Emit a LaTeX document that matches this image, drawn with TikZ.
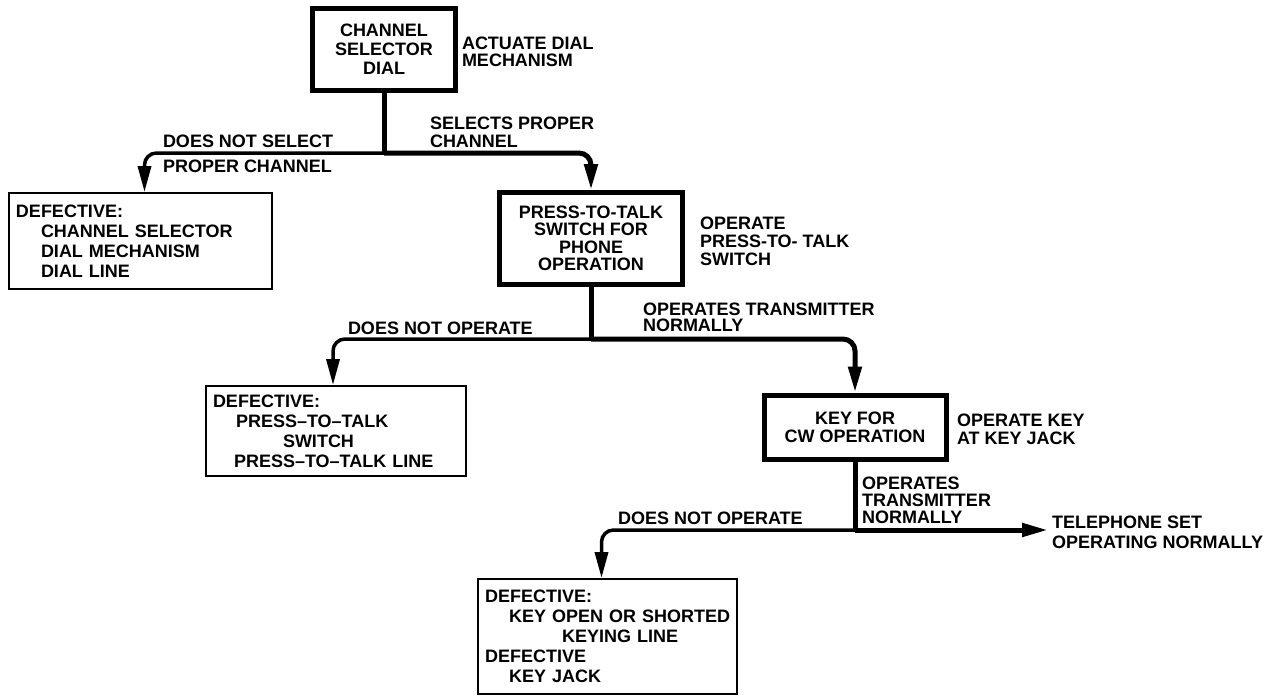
\documentclass[tikz,border=0pt]{standalone}
\usepackage{fontspec}
\setmainfont{Liberation Sans}
\usetikzlibrary{arrows.meta}

\begin{document}
\begin{tikzpicture}[x=1pt,y=-1pt,
  lead/.style={font=\fontsize{18}{#1}\selectfont\bfseries},
  lbl/.style={lead=#1, inner sep=0pt, outer sep=0pt, align=left, anchor=west},
  lbl/.default=18,
  mainbox/.style={draw, line width=5pt, align=center, inner sep=0pt},
  faultbox/.style={draw, line width=2pt, align=left, inner xsep=7pt, inner ysep=0pt, lead=20},
  okline/.style={line width=5pt},
  failline/.style={line width=3.5pt},
  arrowhead/.style={-{Triangle[length=26pt,width=13pt]}},
  roundturn/.style={rounded corners=12pt}
]
\useasboundingbox (0,0) rectangle (1288,696);

% test steps (heavy boxes)
\node[mainbox, lead=19, minimum width=143pt, minimum height=82pt] (b1) at (384,49.5)
  {CHANNEL\\SELECTOR\\DIAL};
\node[mainbox, lead=17.5, minimum width=183pt, minimum height=92pt] (b3) at (591,238.5)
  {PRESS-TO-TALK\\SWITCH FOR\\PHONE\\OPERATION};
\node[mainbox, lead=18, minimum width=182pt, minimum height=64pt] (b5) at (855,427)
  {KEY FOR\\CW OPERATION};

% fault boxes (light boxes); each line kept unbroken
\node[faultbox, text width=249pt, minimum height=96pt] (d1) at (140.5,241)
  {\mbox{DEFECTIVE:}\\
   \mbox{\hspace*{25pt}CHANNEL SELECTOR}\\
   \mbox{\hspace*{25pt}DIAL MECHANISM}\\
   \mbox{\hspace*{25pt}DIAL LINE}};
\node[faultbox, text width=246pt, minimum height=90pt] (d2) at (336,431)
  {\mbox{DEFECTIVE:}\\
   \mbox{\hspace*{23pt}PRESS--TO--TALK}\\
   \mbox{\hspace*{70pt}SWITCH}\\
   \mbox{\hspace*{21pt}PRESS--TO--TALK LINE}};
\node[faultbox, text width=245pt, minimum height=115pt] (d3) at (607.5,636.5)
  {\mbox{DEFECTIVE:}\\
   \mbox{\hspace*{24pt}KEY OPEN OR SHORTED}\\
   \mbox{\hspace*{77pt}KEYING LINE}\\
   \mbox{DEFECTIVE}\\
   \mbox{\hspace*{24pt}KEY JACK}};

% actions beside the steps
\node[lbl=17] (act1) at (462,51.5) {ACTUATE DIAL\\MECHANISM};
\node[lbl=18] (act3) at (700,241) {OPERATE\\PRESS-TO- TALK\\SWITCH};
\node[lbl=18] (act5) at (957,429) {OPERATE KEY\\AT KEY JACK};

% outcome labels
\node[lbl=18] (ok1) at (430,132) {SELECTS PROPER\\CHANNEL};
\node[lbl=25] (no1) at (163,153.5) {DOES NOT SELECT\\PROPER CHANNEL};
\node[lbl=16] (ok3) at (643,317.5) {OPERATES TRANSMITTER\\NORMALLY};
\node[lbl] (no3) at (348,328) {DOES NOT OPERATE};
\node[lbl=17] (ok5) at (862,500) {OPERATES\\TRANSMITTER\\NORMALLY};
\node[lbl] (no5) at (618,518) {DOES NOT OPERATE};
\node[lbl=20, inner xsep=4pt] (tel) at (1048,532) {TELEPHONE SET\\OPERATING NORMALLY};

% branch points
\coordinate (j1) at (384,153);
\coordinate (j3) at (591,339);
\coordinate (j5) at (855,530);

% connectors
\draw[okline] (b1.south) -- (j1);
\draw[okline, arrowhead, roundturn] (j1) -| (b3.north);
\draw[failline, arrowhead, roundturn] (j1) -| ([xshift=4pt]d1.north);

\draw[okline] (b3.south) -- (j3);
\draw[okline, arrowhead, roundturn] (j3) -| (b5.north);
\draw[failline, arrowhead, roundturn] (j3) -| ([xshift=-3pt]d2.north);

\draw[okline] (b5.south) -- (j5);
\draw[okline, arrowhead] (j5) -- (j5 -| tel.west);
\draw[failline, arrowhead, roundturn] (j5) -| ([xshift=-6pt]d3.north);
\end{tikzpicture}
\end{document}
